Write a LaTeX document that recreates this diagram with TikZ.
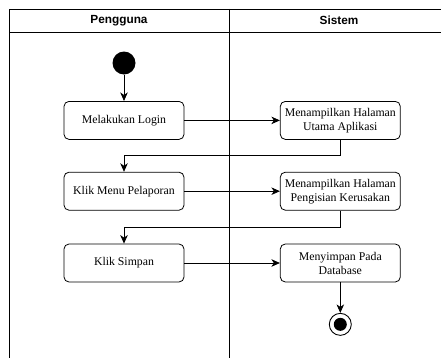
\documentclass[tikz,border=0pt]{standalone}
\usepackage{fontspec}
\setmainfont{Liberation Serif}
\setsansfont{Liberation Sans}
\usetikzlibrary{arrows.meta}

\begin{document}
\begin{tikzpicture} [
    x=1pt, y=-1pt,
    lane/.style     = { draw, line width=0.9pt },
    title/.style    = { font=\sffamily\bfseries\fontsize{11.8}{13}\selectfont },
    block/.style    = { rectangle, rounded corners=5pt, draw, line width=0.8pt,
                        align=center, minimum width=120pt, minimum height=38pt,
                        inner sep=2pt, font=\fontsize{11.8}{14}\selectfont },
    startdot/.style = { circle, fill, minimum size=23pt, inner sep=0pt },
    enddot/.style   = { circle, draw, line width=0.9pt, minimum size=22pt, inner sep=0pt,
                        path picture={\fill (path picture bounding box.center) circle (6.5pt);} },
    line/.style     = { draw, line width=0.8pt, -{Stealth[length=8.5pt,width=7.5pt,inset=2.5pt]} },
  ]

  \useasboundingbox (0,0) rectangle (441,358);
  \clip (0,0) rectangle (441,358);

  % swimlanes
  \draw [lane] (9,380) -- (9,9) -- (449,9) -- (449,380);
  \draw [lane] (9,32) -- (449,32);
  \draw [lane] (229,9) -- (229,380);
  \node [title] (pengguna) at (119,20.5) {Pengguna};
  \node [title] (sistem) at (339,20.5) {Sistem};

  % Define nodes in matrix
  \matrix [column sep=95.5pt, row sep=32pt, matrix anchor=start.center] at (124,63) {
\node[startdot](start){}; & \\[-5.5pt]
\node[block](login){Melakukan Login}; & \node[block](utama){Menampilkan Halaman\\Utama Aplikasi}; \\
\node[block](menu){Klik Menu Pelaporan}; & \node[block](form){Menampilkan Halaman\\Pengisian Kerusakan}; \\[1pt]
\node[block](simpan){Klik Simpan}; & \node[block](db){Menyimpan Pada\\Database}; \\[-1.5pt]
& \node[enddot](end){}; \\
  };

  % connect the nodes
		\path [line] (start) -- (login);
		\path [line] (login) -- (utama);
		\path [line] (utama.south) -- ++(0,16) -| (menu.north);
		\path [line] (menu) -- (form);
		\path [line] (form.south) -- ++(0,17) -| (simpan.north);
		\path [line] (simpan) -- (db);
		\path [line] (db) -- (end);
\end{tikzpicture}
\end{document}
